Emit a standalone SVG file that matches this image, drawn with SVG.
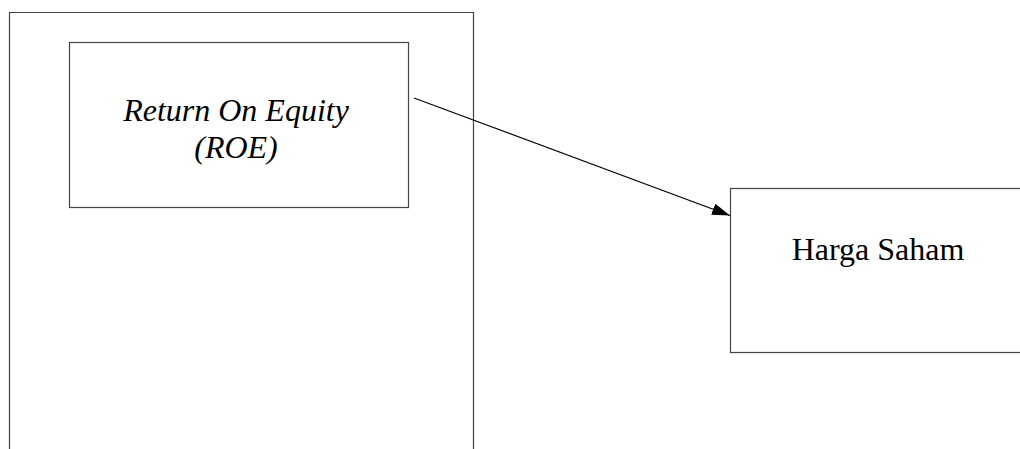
<svg xmlns="http://www.w3.org/2000/svg" width="1020" height="449" viewBox="0 0 1020 449">
<defs>
<style>
.box{fill:none;stroke:#444;stroke-width:1.2}
.lbl{font-family:"Liberation Serif","Times New Roman",serif;font-size:32px;fill:#000;text-anchor:middle}
.it{font-style:italic}
.conn{stroke:#000;stroke-width:1.2;fill:none}
</style>
<marker id="ah" viewBox="0 0 18 12" refX="18" refY="6" markerWidth="18" markerHeight="12" markerUnits="userSpaceOnUse" orient="auto">
<path d="M0,0 L18,6 L0,12 Z" fill="#000"/>
</marker>
</defs>
<rect width="1020" height="449" fill="#fff"/>
<g id="outer">
<path class="box" d="M9.5,460 V12.5 H473.5 V460"/>
</g>
<g id="roe">
<rect class="box" x="69.5" y="42.5" width="339" height="165"/>
<text class="lbl it" x="236" y="120.5">Return On Equity</text>
<text class="lbl it" x="236" y="157.5">(ROE)</text>
</g>
<g id="harga">
<rect class="box" x="730.5" y="188.5" width="300" height="164"/>
<text class="lbl" x="878" y="260">Harga Saham</text>
</g>
<g id="connectors">
<line class="conn" x1="414" y1="98" x2="730" y2="215.5" marker-end="url(#ah)"/>
</g>
</svg>
